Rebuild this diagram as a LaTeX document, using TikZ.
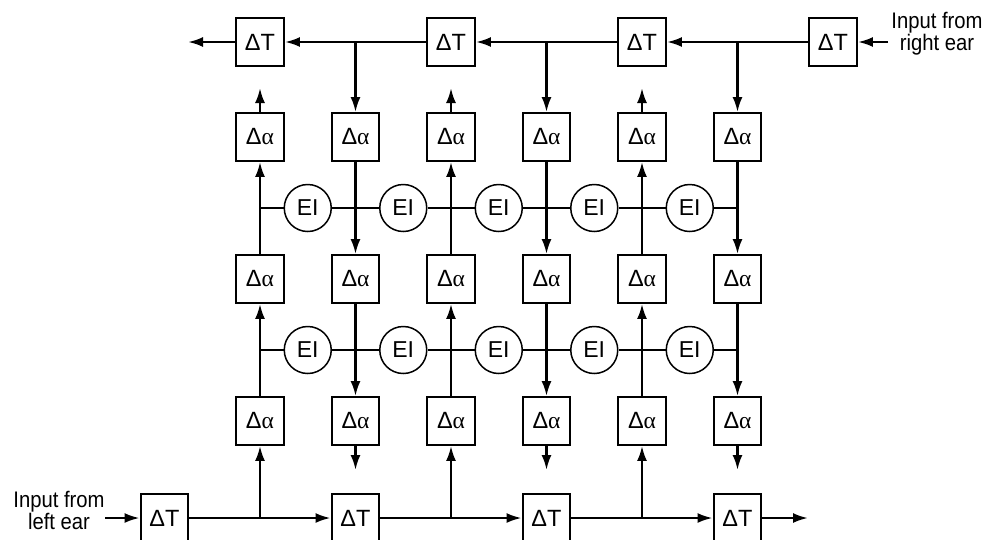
\documentclass[tikz,border=0pt]{standalone}
\usepackage{fontspec}
\setmainfont{Liberation Sans}[FakeStretch=0.9]
\newfontfamily\boxfont{Liberation Sans}
\newfontfamily\grk{Liberation Serif}
\usetikzlibrary{arrows.meta}
\tikzset{
  box/.style={draw, line width=2.4pt, minimum size=47.5pt, inner sep=0pt, font=\boxfont\fontsize{23.5}{25}\selectfont},
  eicirc/.style={draw, circle, line width=1.5pt, minimum size=47pt, inner sep=0pt, font=\boxfont\fontsize{23}{25}\selectfont},
  wire/.style={line width=2.4pt},
  arr/.style={wire, -{Latex[length=15pt,width=10pt]}},
  lbl/.style={align=center, inner sep=0pt, font=\fontsize{22.5}{22}\selectfont}
}
\begin{document}
\begin{tikzpicture}[x=1pt,y=-1pt]
\useasboundingbox (0,0) rectangle (990,539);
\clip (0,0) rectangle (990,539);
% delta-alpha boxes
\foreach \i/\x in {1/260,2/355.5,3/451,4/546.5,5/642,6/737.5} {
  \node[box] (a1\i) at (\x,137) {Δ{\grk α}};
  \node[box] (a2\i) at (\x,279) {Δ{\grk α}};
  \node[box] (a3\i) at (\x,421) {Δ{\grk α}};
}
% EI circles
\foreach \i/\x in {1/307.75,2/403.25,3/498.75,4/594.25,5/689.75} {
  \node[eicirc] (e1\i) at (\x,208) {EI};
  \node[eicirc] (e2\i) at (\x,350) {EI};
}
% delta-T boxes
\node[box] (t1) at (260,42) {ΔT};
\node[box] (t3) at (451,42) {ΔT};
\node[box] (t5) at (642,42) {ΔT};
\node[box] (t7) at (833,42) {ΔT};
\node[box] (b0) at (164.5,518) {ΔT};
\node[box] (b2) at (355.5,518) {ΔT};
\node[box] (b4) at (546.5,518) {ΔT};
\node[box] (b6) at (737.5,518) {ΔT};
% labels
\node[lbl] (lr) at (937,34) {Input from\\right ear};
\node[lbl] (ll) at (59,510) {Input from\\left ear};
% free ends
\coordinate (inR) at (888,42);
\coordinate (outL) at (188,42);
\coordinate (inL) at (105,518);
\coordinate (outR) at (808,518);
\foreach \i/\x in {1/260,3/451,5/642} {\coordinate (u\i) at (\x,88);}
\foreach \i/\x in {2/355.5,4/546.5,6/737.5} {\coordinate (d\i) at (\x,470);}
% top delay line
\draw[arr] (inR) -- (t7.east);
\draw[arr] (t7.west) -- (t5.east);
\draw[arr] (t5.west) -- (t3.east);
\draw[arr] (t3.west) -- (t1.east);
\draw[arr] (t1.west) -- (outL);
\draw[arr] (a16 |- t7) -- (a16.north);
\draw[arr] (a14 |- t5) -- (a14.north);
\draw[arr] (a12 |- t3) -- (a12.north);
% bottom delay line
\draw[arr] (inL) -- (b0.west);
\draw[arr] (b0.east) -- (b2.west);
\draw[arr] (b2.east) -- (b4.west);
\draw[arr] (b4.east) -- (b6.west);
\draw[arr] (b6.east) -- (outR);
\draw[arr] (a31 |- b0) -- (a31.south);
\draw[arr] (a33 |- b2) -- (a33.south);
\draw[arr] (a35 |- b4) -- (a35.south);
% upward columns
\foreach \i in {1,3,5} {
  \draw[arr] (a3\i.north) -- (a2\i.south);
  \draw[arr] (a2\i.north) -- (a1\i.south);
  \draw[arr] (a1\i.north) -- (u\i);
}
% downward columns
\foreach \i in {2,4,6} {
  \draw[arr] (a1\i.south) -- (a2\i.north);
  \draw[arr] (a2\i.south) -- (a3\i.north);
  \draw[arr] (a3\i.south) -- (d\i);
}
% EI rows
\foreach \r in {1,2} {
  \draw[wire] (a11 |- e\r1) -- (e\r1.west);
  \draw[wire] (e\r1.east) -- (e\r2.west);
  \draw[wire] (e\r2.east) -- (e\r3.west);
  \draw[wire] (e\r3.east) -- (e\r4.west);
  \draw[wire] (e\r4.east) -- (e\r5.west);
  \draw[wire] (e\r5.east) -- (a16 |- e\r5);
}
\end{tikzpicture}
\end{document}
